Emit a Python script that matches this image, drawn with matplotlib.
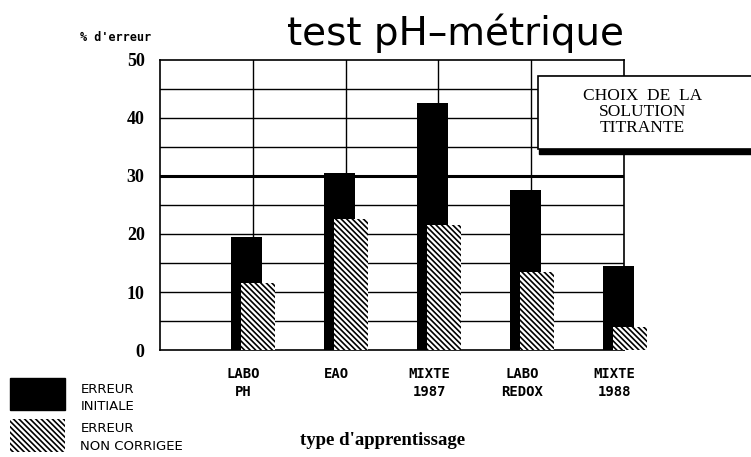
import matplotlib
matplotlib.use("Agg")
import matplotlib.pyplot as plt
import numpy as np
from matplotlib.patches import Rectangle

categories = ["LABO\nPH", "EAO", "MIXTE\n1987", "LABO\nREDOX", "MIXTE\n1988"]
erreur_initiale = [19.5, 30.5, 42.5, 27.5, 14.5]
erreur_non_corrigee = [11.5, 22.5, 21.5, 13.5, 4.0]
yticks = [0, 10, 20, 30, 40, 50]

plt.rcParams['hatch.linewidth'] = 1.2
fig = plt.figure(figsize=(7.51, 4.57), dpi=100)
ax = fig.add_axes([0.213, 0.234, 0.618, 0.635])

x = np.arange(1, len(categories) + 1)
b1 = ax.bar(x - 0.065, erreur_initiale, width=0.334, color='black', zorder=3)
b2 = ax.bar(x + 0.06, erreur_non_corrigee, width=0.366, color='white', edgecolor='black',
            hatch='\\\\\\\\\\\\', linewidth=0, zorder=4)
for p in list(b1) + list(b2):
    p.set_clip_on(False)

ax.set_xlim(0, 5)
ax.set_ylim(0, 50)
for yv in np.arange(5, 50, 5):
    ax.axhline(yv, color='black', lw=2.2 if yv == 30 else 1.0, zorder=1)
for xv in range(1, 5):
    ax.axvline(xv, color='black', lw=1.0, zorder=1)
for s in ax.spines.values():
    s.set_linewidth(1.2)

ax.set_yticks(yticks)
ax.set_yticklabels([str(v) for v in yticks], fontfamily='Liberation Serif',
                   fontweight='bold', fontsize=13)
ax.set_xticks(x - 0.1)
ax.set_xticklabels(categories, fontfamily='DejaVu Sans Mono', fontweight='bold',
                   fontsize=10, linespacing=1.4, va='top')
ax.tick_params(length=0, axis='y', pad=11)
ax.tick_params(length=0, axis='x', pad=12)

fig.text(0.607, 0.928, "test pH\u2013métrique", ha='center', va='center',
         fontsize=28, fontfamily='DejaVu Sans')
fig.text(0.107, 0.917, "% d'erreur", ha='left', va='center', fontsize=8.5,
         fontfamily='DejaVu Sans Mono', fontweight='bold')
fig.text(0.51, 0.037, "type d'apprentissage", ha='center', va='center', fontsize=13.5,
         fontfamily='Liberation Serif', fontweight='bold')

# annotation box with shadow
fig.patches.append(Rectangle((0.718, 0.662), 0.29, 0.172, transform=fig.transFigure,
                             facecolor='black', edgecolor='black', zorder=5))
fig.patches.append(Rectangle((0.716, 0.674), 0.29, 0.160, transform=fig.transFigure,
                             facecolor='white', edgecolor='black', lw=1.2, zorder=6))
fig.text(0.855, 0.755, "CHOIX  DE  LA\nSOLUTION\nTITRANTE", ha='center', va='center',
         fontsize=12.5, fontfamily='Liberation Serif', linespacing=1.0, zorder=7)

# legend
fig.patches.append(Rectangle((0.013, 0.103), 0.073, 0.07, transform=fig.transFigure,
                             facecolor='black', edgecolor='black', zorder=5))
fig.patches.append(Rectangle((0.013, 0.012), 0.073, 0.072, transform=fig.transFigure,
                             facecolor='white', edgecolor='black', hatch='\\\\\\\\\\\\',
                             lw=0, zorder=5))
fig.text(0.107, 0.148, "ERREUR", fontsize=9.5, fontfamily='DejaVu Sans', va='center')
fig.text(0.107, 0.11, "INITIALE", fontsize=9.5, fontfamily='DejaVu Sans', va='center')
fig.text(0.107, 0.062, "ERREUR", fontsize=9.5, fontfamily='DejaVu Sans', va='center')
fig.text(0.107, 0.022, "NON CORRIGEE", fontsize=9.5, fontfamily='DejaVu Sans', va='center')

fig.savefig("out.png", dpi=100)
